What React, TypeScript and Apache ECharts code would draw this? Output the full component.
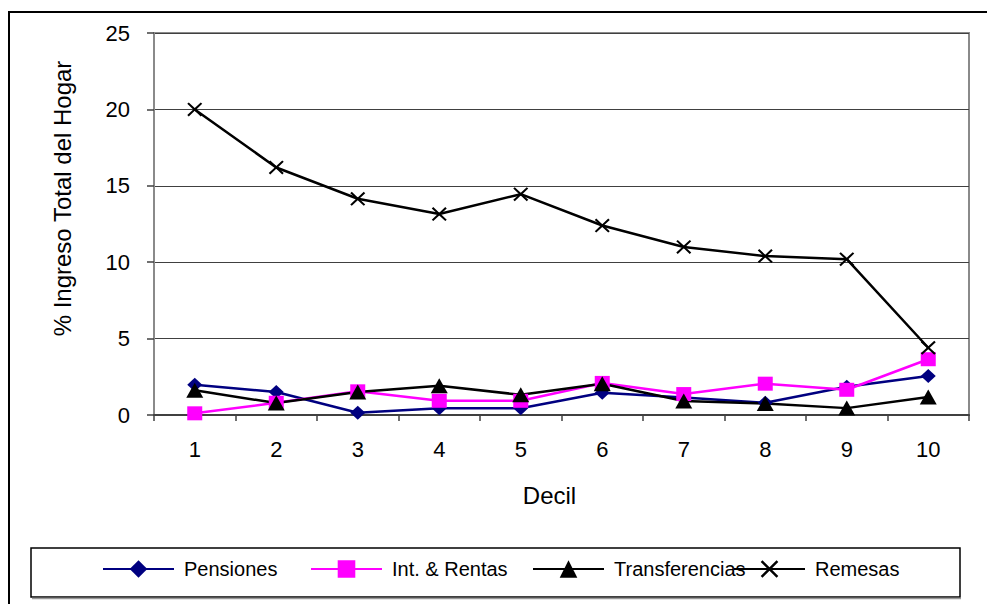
import React, { useEffect, useRef } from "react";
import * as echarts from "echarts";

const categories = ["1", "2", "3", "4", "5", "6", "7", "8", "9", "10"];
const pensiones = [1.98, 1.5, 0.15, 0.44, 0.44, 1.45, 1.15, 0.8, 1.85, 2.55];
const rentas = [0.11, 0.8, 1.55, 0.93, 0.93, 2.1, 1.37, 2.05, 1.65, 3.65];
const transferencias = [1.62, 0.78, 1.5, 1.92, 1.32, 2.05, 0.92, 0.75, 0.45, 1.18];
const remesas = [20.0, 16.2, 14.15, 13.15, 14.45, 12.4, 11.0, 10.4, 10.2, 4.4];
const seriesNames = ["Pensiones", "Int. & Rentas", "Transferencias", "Remesas"];
const yTitle = "% Ingreso Total del Hogar";
const xTitle = "Decil";

const FONT = "'Liberation Sans', Arial, sans-serif";
const CROSS = "path://M0,1 L1,0 L5,4 L9,0 L10,1 L6,5 L10,9 L9,10 L5,6 L1,10 L0,9 L4,5 Z";

export default function App() {
  const ref = useRef<HTMLDivElement>(null);
  useEffect(() => {
    if (!ref.current) return;
    const chart = echarts.init(ref.current, null, { renderer: "svg" });
    const legendLefts = [102, 310, 532, 733];
    const option: any = {
      animation: false,
      backgroundColor: "#fff",
      textStyle: { fontFamily: FONT },
      grid: {
        left: 154,
        top: 33,
        right: 18,
        bottom: 189,
        show: true,
        borderColor: "#8a8a8a",
        borderWidth: 2,
        backgroundColor: "transparent",
      },
      graphic: [
        {
          type: "rect",
          shape: { x: 9, y: 12, width: 1100, height: 800 },
          style: { fill: "none", stroke: "#000", lineWidth: 2 },
          silent: true,
        },
        {
          type: "rect",
          shape: { x: 31, y: 548, width: 929, height: 49 },
          style: { fill: "#fff", stroke: "#000", lineWidth: 1.5 },
          silent: true,
          z: -1,
        },
        {
          type: "line",
          shape: { x1: 32, y1: 598.5, x2: 961, y2: 598.5 },
          style: { stroke: "#999", lineWidth: 1.5 },
          silent: true,
        },
        {
          type: "text",
          x: 62.5,
          y: 198.5,
          rotation: Math.PI / 2,
          silent: true,
          style: {
            text: yTitle,
            fontFamily: FONT,
            fontSize: 24,
            fill: "#000",
            textAlign: "center",
            textVerticalAlign: "middle",
          },
        },
        {
          type: "text",
          x: 549.5,
          y: 495,
          silent: true,
          style: {
            text: xTitle,
            fontFamily: FONT,
            fontSize: 24,
            fill: "#000",
            textAlign: "center",
            textVerticalAlign: "middle",
          },
        },
      ],
      legend: seriesNames.map((n, i) => ({
        data: [n],
        left: legendLefts[i],
        top: 559,
        padding: 0,
        itemWidth: 71,
        itemHeight: 22,
        selectedMode: false,
        textStyle: { fontFamily: FONT, fontSize: 20, color: "#000", padding: [0, 0, 0, 5] },
        z: 5,
      })),
      xAxis: {
        type: "category",
        data: categories,
        boundaryGap: true,
        axisLine: { lineStyle: { color: "#404040", width: 2 } },
        axisTick: { show: true, length: 6, lineStyle: { color: "#404040", width: 1.5 } },
        axisLabel: { fontFamily: FONT, fontSize: 22, color: "#000", margin: 23 },
        splitLine: { show: false },
      },
      yAxis: {
        type: "value",
        min: 0,
        max: 25,
        interval: 5,
        axisLine: { show: true, lineStyle: { color: "#8a8a8a", width: 2 } },
        axisTick: { show: true, length: 7, lineStyle: { color: "#404040", width: 1.5 } },
        axisLabel: { fontFamily: FONT, fontSize: 22, color: "#000", margin: 24 },
        splitLine: { show: true, lineStyle: { color: "#404040", width: 1 } },
      },
      series: [
        {
          name: "Pensiones",
          type: "line",
          data: pensiones,
          symbol: "diamond",
          symbolSize: [15, 14],
          itemStyle: { color: "#000080" },
          lineStyle: { color: "#000080", width: 2.5 },
        },
        {
          name: "Int. & Rentas",
          type: "line",
          data: rentas,
          symbol: "rect",
          symbolSize: [15, 14],
          itemStyle: { color: "#ff00ff" },
          lineStyle: { color: "#ff00ff", width: 2.5 },
        },
        {
          name: "Transferencias",
          type: "line",
          data: transferencias,
          symbol: "triangle",
          symbolSize: [17, 15],
          itemStyle: { color: "#000" },
          lineStyle: { color: "#000", width: 2.5 },
        },
        {
          name: "Remesas",
          type: "line",
          data: remesas,
          symbol: CROSS,
          symbolSize: [15, 14],
          itemStyle: { color: "#000" },
          lineStyle: { color: "#000", width: 2.5 },
        },
      ],
    };
    chart.setOption(option);
    return () => chart.dispose();
  }, []);
  return (
    <div
      ref={ref}
      style={{ position: "fixed", left: 0, top: 0, width: 987, height: 604 }}
    />
  );
}
